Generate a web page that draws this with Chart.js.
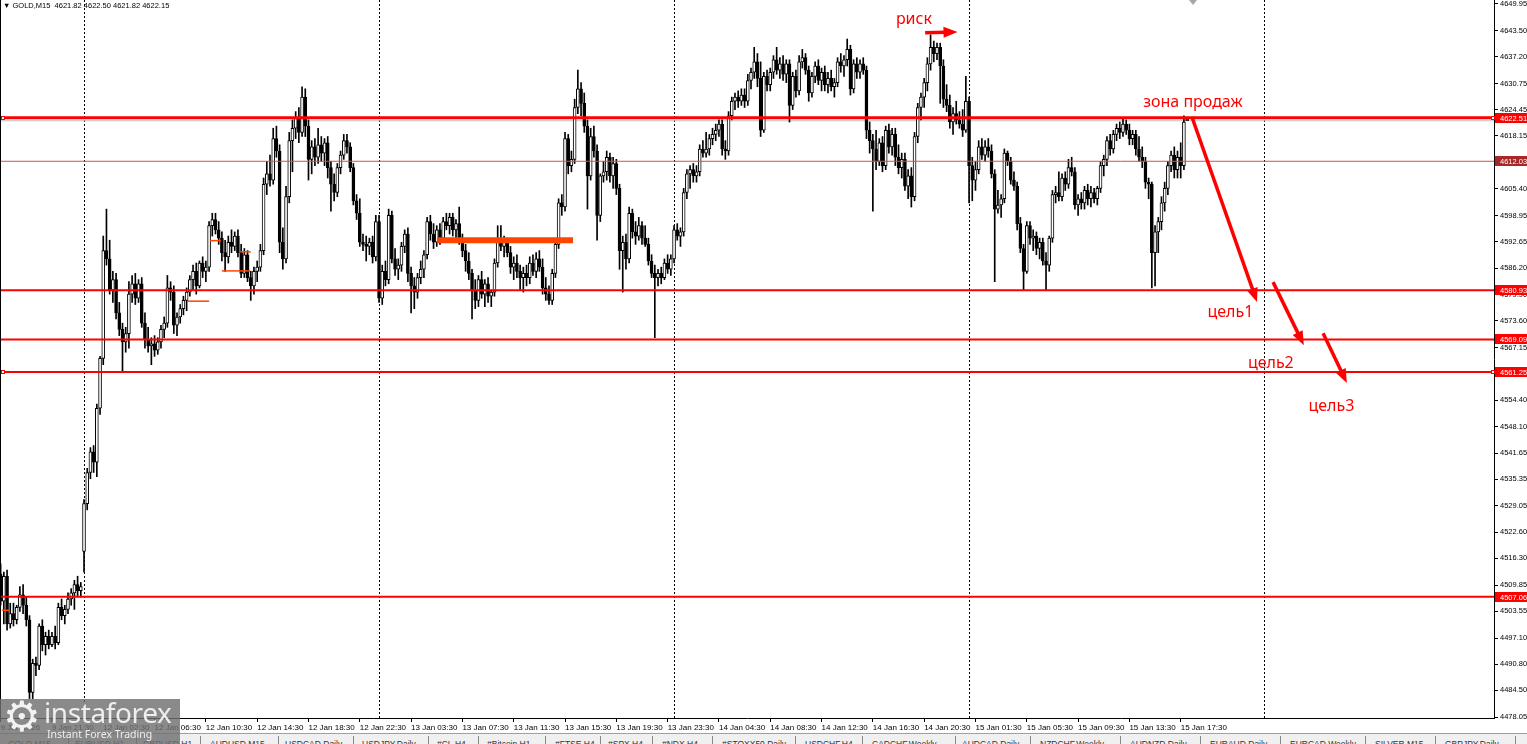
<!DOCTYPE html>
<html>
<head>
<meta charset="utf-8">
<script src="https://cdn.jsdelivr.net/npm/chart.js@4.4.1/dist/chart.umd.min.js"></script>
<style>
html, body { margin: 0; padding: 0; background: #fff; overflow: hidden; }
#wrap { position: relative; width: 1527px; height: 744px; font-family: "Liberation Sans", Arial, sans-serif; }
#c { position: absolute; left: 0; top: 0; }
#hdr { position: absolute; left: 3px; top: 1px; font-size: 7.5px; color: #000; white-space: pre; }
#shift { position: absolute; left: 1189px; top: 0; width: 0; height: 0; border-left: 4px solid transparent; border-right: 4px solid transparent; border-top: 5px solid #a8a8a8; }
#tabs { position: absolute; left: 0; top: 733px; width: 1527px; height: 11px; background: #f0f0f0; border-top: 1px solid #a0a0a0; overflow: hidden; font-size: 8.5px; color: #333; }
#tabs span { position: absolute; top: 5px; white-space: nowrap; }
#tabs i { position: absolute; top: 2px; width: 1px; height: 10px; background: #888; }
#logo { position: absolute; left: 0; top: 699px; width: 180px; height: 45px; background: rgba(112,112,112,0.82); overflow: hidden; color: #eee; font-family: "Noto Sans", sans-serif; }
#logo .gear { position: absolute; left: 3px; top: -7px; font-size: 42px; font-family: "DejaVu Sans", sans-serif; color: #f2f2f2; }
#logo .big { position: absolute; left: 44px; top: -6px; font-size: 28px; letter-spacing: -0.4px; }
#logo .small { position: absolute; left: 47px; top: 28px; font-size: 10.5px; }
</style>
</head>
<body>
<div id="wrap">
  <canvas id="c" width="1527" height="734" style="width:1527px;height:734px"></canvas>
  <div id="hdr"></div>
  <div id="shift"></div>
  <div id="tabs"></div>
  <div id="logo"><span class="gear">⚙</span><span class="big">instaforex</span><span class="small">Instant Forex Trading</span></div>
</div>
<script>
// GOLD M15 candles, 9 Jan 17:30 .. 15 Jan 18:00
const opens = [
4512.5,4506.0,4512.0,4500.5,4503.0,4501.5,4504.5,4507.5,4505.0,4501.5,4484.0,4491.0,4490.5,4500.0,4495.5,4497.5,4495.5,4497.5,4496.0,4504.5,
4502.5,4504.0,4506.5,4508.0,4510.0,4508.5,4518.0,4529.5,4537.0,4542.0,4539.5,4552.5,4564.5,4590.5,4588.5,4581.0,4583.5,4575.5,4571.5,4568.5,
4570.5,4580.0,4582.5,4579.0,4582.5,4573.0,4569.0,4567.5,4568.0,4566.5,4568.5,4571.5,4573.0,4581.5,4580.5,4572.5,4574.5,4576.5,4578.5,4580.5,
4583.5,4585.5,4582.0,4587.5,4585.5,4586.5,4596.5,4598.0,4595.5,4593.5,4590.0,4589.0,4592.5,4591.5,4594.0,4590.0,4585.0,4589.5,4584.0,4582.0,
4585.5,4586.5,4590.5,4606.5,4609.0,4607.5,4617.5,4614.5,4592.5,4588.5,4603.5,4617.0,4620.0,4622.5,4619.0,4627.5,4620.5,4612.5,4615.5,4613.0,
4616.0,4614.0,4616.5,4610.5,4606.5,4604.5,4610.5,4613.5,4617.0,4615.5,4610.5,4602.5,4599.5,4592.5,4592.0,4591.5,4592.5,4589.0,4597.5,4579.0,
4585.5,4583.5,4599.0,4588.5,4586.0,4587.0,4591.5,4594.5,4585.0,4582.0,4580.5,4584.0,4586.0,4589.5,4597.5,4594.5,4592.5,4595.5,4593.5,4597.5,
4596.5,4598.5,4595.5,4597.0,4593.0,4590.5,4588.0,4585.0,4581.0,4578.5,4583.5,4580.0,4582.5,4579.5,4580.5,4587.5,4592.5,4591.5,4592.5,4590.0,
4586.5,4587.5,4585.5,4584.0,4585.0,4584.0,4587.5,4585.5,4588.5,4586.5,4581.5,4580.0,4578.5,4585.0,4592.0,4602.0,4601.0,4617.5,4611.0,4612.5,
4625.0,4629.5,4626.0,4620.5,4608.5,4618.0,4614.5,4599.0,4608.5,4609.5,4613.0,4608.5,4611.5,4605.5,4590.5,4592.5,4588.5,4599.5,4595.0,4594.0,
4596.5,4593.5,4592.0,4588.0,4585.0,4584.0,4585.0,4584.0,4587.5,4586.0,4588.5,4595.5,4594.0,4595.0,4604.5,4609.0,4610.0,4608.5,4609.5,4615.0,
4614.0,4615.0,4617.5,4618.5,4619.5,4621.0,4615.0,4614.5,4623.0,4626.5,4627.5,4626.5,4628.0,4626.5,4631.5,4633.5,4636.0,4632.0,4619.5,4632.5,
4630.5,4633.5,4636.5,4634.0,4635.5,4633.0,4635.5,4625.5,4632.5,4629.0,4636.0,4637.0,4634.0,4628.5,4632.5,4635.0,4631.5,4633.5,4630.5,4632.0,
4630.0,4631.0,4636.0,4635.0,4636.5,4639.0,4629.5,4635.5,4633.5,4635.5,4634.0,4619.5,4617.0,4615.0,4612.0,4616.5,4611.0,4619.5,4615.5,4618.5,
4613.0,4610.5,4612.5,4606.0,4608.5,4603.5,4618.0,4625.0,4627.5,4631.0,4635.5,4639.5,4638.0,4639.5,4635.0,4627.0,4625.5,4621.5,4623.5,4622.0,
4621.0,4619.5,4626.5,4611.0,4607.5,4610.0,4615.5,4613.5,4615.5,4614.5,4609.0,4600.5,4601.5,4603.0,4614.0,4612.0,4607.5,4606.0,4597.0,4591.0,
4585.5,4596.5,4593.5,4594.0,4591.0,4592.5,4588.0,4587.0,4593.5,4604.0,4604.5,4603.5,4608.0,4606.5,4610.5,4609.5,4601.5,4603.0,4602.0,4605.0,
4603.0,4604.5,4603.0,4605.5,4611.0,4612.5,4617.0,4615.0,4618.5,4620.0,4619.0,4621.0,4619.5,4617.5,4618.5,4615.0,4613.0,4612.0,4607.0,4606.5,
4590.0,4595.0,4597.5,4602.0,4605.5,4611.0,4613.5,4610.0,4613.0,4611.0,4621.82
];
const highs = [
4515.0,4513.0,4513.5,4505.5,4505.5,4505.0,4509.5,4510.0,4507.0,4502.5,4492.0,4492.5,4500.5,4501.5,4498.5,4499.0,4498.5,4500.0,4505.5,4506.5,
4505.0,4508.0,4509.0,4511.0,4512.0,4510.5,4530.5,4538.0,4543.0,4543.5,4553.5,4565.0,4594.0,4600.5,4593.0,4585.5,4585.0,4578.0,4573.0,4572.0,
4583.0,4584.5,4585.0,4583.5,4584.0,4575.5,4572.0,4569.5,4570.0,4569.5,4572.5,4574.5,4584.5,4583.0,4582.0,4575.5,4577.5,4579.5,4581.5,4584.5,
4587.0,4587.5,4588.0,4589.0,4588.0,4597.5,4599.5,4599.5,4597.5,4595.0,4593.0,4594.0,4595.5,4595.0,4595.5,4592.0,4591.0,4590.5,4585.5,4586.5,
4588.0,4592.0,4608.0,4612.0,4613.5,4620.0,4620.5,4616.0,4596.0,4606.0,4619.0,4622.0,4624.0,4625.0,4630.0,4629.5,4622.0,4617.0,4617.5,4620.0,
4618.0,4617.5,4618.0,4612.0,4609.0,4611.5,4614.5,4618.5,4618.5,4616.5,4611.5,4604.0,4603.0,4594.5,4594.0,4593.5,4594.0,4599.0,4599.0,4587.0,
4588.0,4600.5,4600.0,4591.0,4588.5,4592.5,4595.5,4596.0,4586.5,4584.0,4585.0,4588.0,4590.5,4598.5,4599.0,4597.0,4596.5,4597.0,4598.5,4599.5,
4599.5,4599.5,4598.0,4601.0,4594.5,4592.0,4590.0,4586.0,4583.5,4584.5,4585.5,4583.5,4584.0,4581.0,4588.5,4596.5,4596.5,4594.0,4593.5,4591.5,
4589.0,4589.5,4587.0,4586.5,4587.0,4589.0,4589.5,4590.0,4590.5,4588.5,4584.0,4582.0,4586.0,4593.0,4603.0,4604.0,4619.0,4618.5,4614.5,4627.0,
4634.0,4631.0,4628.5,4622.0,4620.0,4620.5,4616.0,4609.0,4612.0,4614.5,4614.0,4613.0,4612.5,4606.5,4594.0,4594.5,4601.0,4600.5,4597.5,4598.5,
4597.5,4596.5,4593.5,4589.5,4587.0,4586.0,4586.5,4588.5,4589.5,4589.5,4596.5,4597.0,4596.0,4605.5,4610.0,4611.0,4611.5,4611.0,4616.0,4617.0,
4619.0,4618.5,4620.0,4621.0,4622.0,4622.0,4617.0,4624.0,4627.5,4628.5,4629.0,4629.5,4629.5,4633.0,4634.5,4639.5,4638.0,4636.0,4633.5,4634.0,
4634.5,4637.5,4639.5,4637.0,4637.5,4636.5,4636.5,4633.5,4634.0,4637.5,4639.0,4638.0,4635.0,4633.5,4636.0,4636.5,4634.5,4635.0,4633.5,4634.0,
4632.0,4637.0,4638.0,4637.5,4641.5,4640.0,4636.5,4637.0,4636.5,4637.0,4635.0,4621.5,4618.5,4619.5,4617.5,4618.0,4620.5,4621.0,4620.0,4620.0,
4616.0,4614.0,4614.0,4610.0,4610.5,4619.0,4626.0,4628.5,4632.0,4637.0,4642.5,4641.0,4640.5,4640.5,4636.5,4630.5,4628.0,4625.0,4626.5,4624.0,
4624.5,4632.5,4627.5,4613.0,4612.0,4617.0,4617.5,4617.0,4617.5,4616.0,4610.0,4605.0,4604.0,4615.0,4614.5,4613.0,4609.5,4607.0,4598.5,4592.0,
4597.5,4597.5,4595.5,4595.0,4593.5,4593.5,4590.0,4594.0,4605.0,4606.0,4609.5,4609.0,4609.5,4612.5,4613.0,4610.5,4604.0,4604.5,4606.0,4606.5,
4606.0,4605.5,4606.0,4612.0,4613.5,4618.0,4618.5,4619.5,4621.0,4621.5,4622.5,4622.0,4621.0,4619.5,4619.5,4618.0,4615.5,4613.0,4608.0,4607.0,
4596.5,4598.5,4603.5,4607.0,4612.0,4614.5,4615.5,4614.5,4616.5,4623.0,4622.50
];
const lows = [
4505.0,4500.5,4499.0,4499.5,4500.0,4500.5,4503.5,4503.0,4500.0,4482.5,4482.5,4488.0,4489.5,4494.0,4493.0,4494.5,4495.0,4494.5,4495.5,4501.5,
4500.5,4503.0,4505.0,4504.0,4507.0,4507.0,4513.0,4528.0,4535.5,4537.0,4536.0,4551.0,4563.0,4587.0,4580.0,4578.0,4574.0,4570.0,4561.5,4566.0,
4567.0,4578.0,4577.5,4578.0,4572.0,4567.0,4566.0,4563.0,4565.0,4565.5,4567.0,4569.5,4572.0,4578.5,4570.5,4570.0,4573.0,4575.0,4576.0,4579.5,
4581.0,4580.0,4581.5,4584.0,4583.0,4585.5,4594.0,4594.5,4592.0,4588.0,4585.5,4587.5,4590.0,4590.5,4589.0,4584.0,4584.0,4583.0,4578.5,4580.0,
4583.0,4585.5,4589.5,4604.0,4606.0,4606.5,4613.0,4590.0,4586.0,4587.5,4602.0,4609.5,4617.5,4616.5,4618.0,4618.0,4607.5,4609.0,4611.0,4611.5,
4612.0,4611.0,4608.0,4600.0,4602.5,4603.5,4609.0,4612.5,4614.0,4609.5,4601.5,4598.0,4591.5,4590.5,4588.0,4589.5,4587.5,4588.0,4578.0,4577.5,
4582.0,4582.5,4587.5,4584.5,4583.5,4585.5,4590.0,4583.0,4575.5,4576.5,4579.0,4582.5,4584.0,4588.5,4593.0,4591.0,4591.5,4592.0,4592.5,4595.5,
4594.5,4594.0,4593.0,4592.0,4589.0,4585.5,4583.5,4574.0,4576.5,4577.0,4579.0,4577.0,4578.0,4577.0,4579.5,4586.5,4590.5,4589.0,4589.0,4585.0,
4583.5,4584.0,4581.0,4580.5,4582.0,4582.5,4584.5,4584.0,4585.5,4580.0,4578.5,4577.5,4577.5,4584.0,4591.0,4599.0,4600.0,4609.0,4609.5,4611.5,
4623.5,4623.0,4619.0,4600.5,4607.5,4613.0,4593.0,4597.5,4607.0,4607.5,4607.0,4605.5,4604.0,4586.0,4580.5,4586.0,4587.5,4593.5,4592.0,4593.0,
4592.0,4591.5,4587.0,4584.0,4569.5,4582.0,4582.5,4583.5,4585.0,4584.5,4587.5,4593.0,4591.5,4594.0,4603.0,4605.5,4607.0,4607.0,4608.5,4613.0,
4613.0,4613.5,4616.0,4617.0,4618.0,4613.5,4612.5,4613.5,4622.0,4624.5,4625.0,4625.5,4625.0,4625.5,4629.5,4632.0,4630.0,4618.0,4619.0,4629.0,
4629.0,4632.0,4633.0,4632.0,4631.5,4631.0,4621.5,4624.5,4627.5,4628.0,4634.5,4633.0,4626.5,4627.5,4631.0,4630.5,4629.0,4629.0,4628.5,4629.0,
4627.5,4630.0,4633.5,4632.5,4635.0,4628.0,4628.5,4632.0,4632.0,4633.0,4617.5,4614.0,4600.0,4610.0,4611.0,4609.5,4610.0,4614.0,4613.5,4611.0,
4609.0,4608.0,4605.0,4603.0,4601.0,4602.5,4616.5,4622.0,4625.0,4629.0,4634.0,4636.0,4636.5,4626.0,4625.0,4624.0,4620.0,4618.5,4621.0,4620.0,
4618.0,4619.0,4602.0,4602.5,4605.0,4609.0,4612.5,4612.0,4613.0,4608.0,4583.0,4599.5,4598.5,4602.0,4611.0,4606.5,4605.0,4595.5,4590.0,4581.0,
4585.0,4592.0,4590.5,4589.5,4588.5,4587.0,4581.0,4585.5,4592.5,4602.0,4602.5,4602.5,4605.0,4605.5,4608.5,4600.5,4599.0,4600.5,4600.5,4601.5,
4601.0,4602.0,4601.5,4604.5,4608.5,4611.0,4613.5,4614.0,4617.0,4617.5,4618.0,4618.5,4616.0,4616.0,4613.5,4612.0,4610.5,4605.5,4603.0,4581.5,
4582.0,4590.0,4595.5,4600.0,4604.0,4609.5,4608.0,4608.0,4608.0,4610.0,4621.82
];
const closes = [
4506.0,4512.0,4500.5,4503.0,4501.5,4504.5,4507.5,4505.0,4501.5,4484.0,4491.0,4490.5,4500.0,4495.5,4497.5,4495.5,4497.5,4496.0,4504.5,4502.5,
4504.0,4506.5,4508.0,4510.0,4508.5,4509.5,4529.5,4537.0,4542.0,4539.5,4552.5,4564.5,4590.5,4588.5,4581.0,4583.5,4575.5,4571.5,4568.5,4570.5,
4580.0,4582.5,4579.0,4582.5,4573.0,4569.0,4567.5,4568.0,4566.5,4568.5,4571.5,4573.0,4581.5,4580.5,4572.5,4574.5,4576.5,4578.5,4580.5,4583.5,
4585.5,4582.0,4587.5,4585.5,4586.5,4596.5,4598.0,4595.5,4593.5,4590.0,4589.0,4592.5,4591.5,4594.0,4590.0,4585.0,4589.5,4584.0,4582.0,4585.5,
4586.5,4590.5,4606.5,4609.0,4607.5,4617.5,4614.5,4592.5,4588.5,4603.5,4617.0,4620.0,4622.5,4619.0,4627.5,4620.5,4612.5,4615.5,4613.0,4616.0,
4614.0,4616.5,4610.5,4606.5,4604.5,4610.5,4613.5,4617.0,4615.5,4610.5,4602.5,4599.5,4592.5,4592.0,4591.5,4592.5,4589.0,4597.5,4579.0,4585.5,
4583.5,4599.0,4588.5,4586.0,4587.0,4591.5,4594.5,4585.0,4582.0,4580.5,4584.0,4586.0,4589.5,4597.5,4594.5,4592.5,4595.5,4593.5,4597.5,4596.5,
4598.5,4595.5,4597.0,4593.0,4590.5,4588.0,4585.0,4581.0,4578.5,4583.5,4580.0,4582.5,4579.5,4580.5,4587.5,4592.5,4591.5,4592.5,4590.0,4586.5,
4587.5,4585.5,4584.0,4585.0,4584.0,4587.5,4585.5,4588.5,4586.5,4581.5,4580.0,4578.5,4585.0,4592.0,4602.0,4601.0,4617.5,4611.0,4612.5,4625.0,
4629.5,4626.0,4620.5,4608.5,4618.0,4614.5,4599.0,4608.5,4609.5,4613.0,4608.5,4611.5,4605.5,4590.5,4592.5,4588.5,4599.5,4595.0,4594.0,4596.5,
4593.5,4592.0,4588.0,4585.0,4584.0,4585.0,4584.0,4587.5,4586.0,4588.5,4595.5,4594.0,4595.0,4604.5,4609.0,4610.0,4608.5,4609.5,4615.0,4614.0,
4615.0,4617.5,4618.5,4619.5,4621.0,4615.0,4614.5,4623.0,4626.5,4627.5,4626.5,4628.0,4626.5,4631.5,4633.5,4636.0,4632.0,4619.5,4632.5,4630.5,
4633.5,4636.5,4634.0,4635.5,4633.0,4635.5,4625.5,4632.5,4629.0,4636.0,4637.0,4634.0,4628.5,4632.5,4635.0,4631.5,4633.5,4630.5,4632.0,4630.0,
4631.0,4636.0,4635.0,4636.5,4639.0,4629.5,4635.5,4633.5,4635.5,4634.0,4619.5,4617.0,4615.0,4612.0,4616.5,4611.0,4619.5,4615.5,4618.5,4613.0,
4610.5,4612.5,4606.0,4608.5,4603.5,4618.0,4625.0,4627.5,4631.0,4635.5,4639.5,4638.0,4639.5,4635.0,4627.0,4625.5,4621.5,4623.5,4622.0,4621.0,
4619.5,4626.5,4611.0,4607.5,4610.0,4615.5,4613.5,4615.5,4614.5,4609.0,4600.5,4601.5,4603.0,4614.0,4612.0,4607.5,4606.0,4597.0,4591.0,4585.5,
4596.5,4593.5,4594.0,4591.0,4592.5,4588.0,4587.0,4593.5,4604.0,4604.5,4603.5,4608.0,4606.5,4610.5,4609.5,4601.5,4603.0,4602.0,4605.0,4603.0,
4604.5,4603.0,4605.5,4611.0,4612.5,4617.0,4615.0,4618.5,4620.0,4619.0,4621.0,4619.5,4617.5,4618.5,4615.0,4613.0,4612.0,4607.0,4606.5,4590.0,
4595.0,4597.5,4602.0,4605.5,4611.0,4613.5,4610.0,4613.0,4611.0,4621.5,4622.15
];

// x-axis labels, one every 16 bars
const timeLabels = ['9 Jan 2026','9 Jan 21:30','12 Jan 02:30','12 Jan 06:30','12 Jan 10:30','12 Jan 14:30',
  '12 Jan 18:30','12 Jan 22:30','13 Jan 03:30','13 Jan 07:30','13 Jan 11:30','13 Jan 15:30','13 Jan 19:30',
  '13 Jan 23:30','14 Jan 04:30','14 Jan 08:30','14 Jan 12:30','14 Jan 16:30','14 Jan 20:30','15 Jan 01:30',
  '15 Jan 05:30','15 Jan 09:30','15 Jan 13:30','15 Jan 17:30'];
const labelStep = 16;

// price axis ticks
const priceTicks = [4649.95,4643.50,4637.20,4630.75,4624.45,4618.15,4611.70,4605.40,4598.95,4592.65,4586.20,
  4579.90,4573.60,4567.15,4560.85,4554.40,4548.10,4541.65,4535.35,4529.05,4522.60,4516.30,4509.85,4503.55,
  4497.10,4490.80,4484.50,4478.05];

// day separators (bar index of first bar of each day)
const dayBreaks = [26, 118, 210, 302, 394];

// horizontal levels
const levels = [4622.51, 4612.03, 4580.93, 4569.09, 4561.25, 4507.06];
const bidPrice = 4622.15;

// orange segments: from bar, to bar, price
const orangeFrom = [136.1, 65.3, 69.0, 74.7, 58.4, 0.4];
const orangeTo = [178.5, 68.7, 77.8, 78.0, 65.0, 2.9];
const orangePrice = [4593.0, 4592.9, 4585.6, 4590.2, 4578.3, 4503.8];

// red arrows: [bar from, price from, bar to, price to]
const arrows = [
  [288.3, 4643.0, 298.4, 4643.2],
  [371.5, 4622.7, 391.8, 4578.1],
  [396.8, 4582.9, 406.4, 4567.7],
  [412.4, 4570.6, 419.8, 4558.6]
];
const notes = ['риск', 'зона продаж', 'цель1', 'цель2', 'цель3'];
const noteBar = [284.8, 371.8, 383.5, 396.1, 415.0];
const notePrice = [4646.3, 4626.3, 4575.6, 4563.2, 4553.0];

const tabList = [[8,'GOLD,M15'],[75,'EURUSD,H1'],[143,'GBPUSD,H1'],[210,'AUDUSD,M15'],[285,'USDCAD,Daily'],
  [362,'USDJPY,Daily'],[437,'#CL,H4'],[487,'#Bitcoin,H1'],[555,'#FTSE,H4'],[608,'#SPX,H4'],[662,'#NDX,H4'],
  [722,'#STOXX50,Daily'],[805,'USDCHF,H4'],[872,'CADCHF,Weekly'],[962,'AUDCAD,Daily'],[1040,'NZDCHF,Weekly'],
  [1130,'AUDNZD,Daily'],[1210,'EURAUD,Daily'],[1290,'EURCAD,Weekly'],[1375,'SILVER,M15'],[1445,'GBPJPY,Daily']];
const tabSeps = [68, 136, 200, 278, 353, 428, 478, 545, 600, 652, 712, 795, 862, 955, 1030, 1120, 1200, 1280, 1365, 1435, 1515];

const last = closes.length - 1;
document.getElementById('hdr').textContent = '\u25BC GOLD,M15  ' + opens[last].toFixed(2) + ' ' +
  highs[last].toFixed(2) + ' ' + lows[last].toFixed(2) + ' ' + closes[last].toFixed(2);

let tabsHtml = '';
tabList.forEach(t => { tabsHtml += '<span style="left:' + t[0] + 'px">' + t[1] + '</span>'; });
tabSeps.forEach(s => { tabsHtml += '<i style="left:' + s + 'px"></i>'; });
document.getElementById('tabs').innerHTML = tabsHtml;

const AX_FONT = { family: '"Liberation Sans", Arial, sans-serif', size: 8 };

const overlay = {
  id: 'overlay',
  beforeDatasetsDraw(chart) {
    const { ctx, chartArea: a, scales: { x } } = chart;
    ctx.save();
    ctx.strokeStyle = '#000';
    ctx.lineWidth = 1;
    ctx.setLineDash([2, 2]);
    dayBreaks.forEach(d => {
      const px = Math.round(x.getPixelForValue(d)) + 0.5;
      ctx.beginPath(); ctx.moveTo(px, a.top); ctx.lineTo(px, a.bottom); ctx.stroke();
    });
    ctx.setLineDash([]);
    // bid line
    const by = chart.scales.y.getPixelForValue(bidPrice);
    ctx.strokeStyle = '#c0c0c0';
    ctx.beginPath(); ctx.moveTo(a.left, by + 1.5); ctx.lineTo(a.right, by + 1.5); ctx.stroke();
    ctx.restore();
  },
  afterDatasetsDraw(chart) {
    const { ctx, chartArea: a, scales: { x, y } } = chart;
    ctx.save();
    ctx.beginPath(); ctx.rect(a.left, a.top, a.right - a.left, a.bottom - a.top); ctx.clip();

    // orange marks
    ctx.strokeStyle = '#ff4500';
    orangePrice.forEach((p, i) => {
      ctx.lineWidth = i === 0 ? 6 : 1.5;
      const py = y.getPixelForValue(p);
      ctx.beginPath(); ctx.moveTo(x.getPixelForValue(orangeFrom[i]), py);
      ctx.lineTo(x.getPixelForValue(orangeTo[i]), py); ctx.stroke();
    });

    // levels
    const lw = [3, 1, 2, 2, 2, 2];
    const lc = ['#ff0000', '#d05050', '#ff0000', '#ff0000', '#ff0000', '#ff0000'];
    levels.forEach((p, i) => {
      const py = y.getPixelForValue(p);
      ctx.strokeStyle = lc[i]; ctx.lineWidth = lw[i];
      ctx.beginPath(); ctx.moveTo(a.left, py); ctx.lineTo(a.right, py); ctx.stroke();
    });

    // left border
    ctx.strokeStyle = '#000'; ctx.lineWidth = 1;
    ctx.beginPath(); ctx.moveTo(a.left + 0.5, a.top); ctx.lineTo(a.left + 0.5, a.bottom); ctx.stroke();

    // selection squares on the left end
    [levels[0], levels[4]].forEach(p => {
      const py = Math.round(y.getPixelForValue(p));
      ctx.fillStyle = '#fff'; ctx.fillRect(a.left + 1, py - 2, 4, 4);
      ctx.strokeStyle = '#ff0000'; ctx.strokeRect(a.left + 1.5, py - 1.5, 3, 3);
    });

    // arrows
    ctx.strokeStyle = '#ff0000'; ctx.fillStyle = '#ff0000';
    arrows.forEach(ar => {
      const x1 = x.getPixelForValue(ar[0]), y1 = y.getPixelForValue(ar[1]);
      const x2 = x.getPixelForValue(ar[2]), y2 = y.getPixelForValue(ar[3]);
      const ang = Math.atan2(y2 - y1, x2 - x1);
      const hl = 14, hw = 5.5;
      const bx = x2 - Math.cos(ang) * hl, byy = y2 - Math.sin(ang) * hl;
      ctx.lineWidth = 3.5; ctx.lineCap = 'butt';
      ctx.beginPath(); ctx.moveTo(x1, y1); ctx.lineTo(bx + Math.cos(ang) * 2, byy + Math.sin(ang) * 2); ctx.stroke();
      ctx.beginPath();
      ctx.moveTo(x2, y2);
      ctx.lineTo(bx - Math.sin(ang) * hw, byy + Math.cos(ang) * hw);
      ctx.lineTo(bx + Math.sin(ang) * hw, byy - Math.cos(ang) * hw);
      ctx.closePath(); ctx.fill();
    });

    // notes
    ctx.font = '16px "Noto Sans", sans-serif';
    ctx.textAlign = 'center'; ctx.textBaseline = 'middle';
    notes.forEach((t, i) => {
      ctx.fillText(t, x.getPixelForValue(noteBar[i]), y.getPixelForValue(notePrice[i]));
    });
    ctx.restore();
  },
  afterDraw(chart) {
    const { ctx, chartArea: a, scales: { y } } = chart;
    ctx.save();
    const bg = ['#ff0000', '#a82828', '#ff0000', '#ff0000', '#ff0000', '#ff0000'];
    ctx.font = '7.5px "Liberation Sans", Arial, sans-serif';
    ctx.textAlign = 'left'; ctx.textBaseline = 'middle';
    levels.forEach((p, i) => {
      const py = Math.round(y.getPixelForValue(p));
      ctx.fillStyle = bg[i];
      ctx.fillRect(a.right + 1, py - 5, 33, 10);
      ctx.fillStyle = '#fff';
      ctx.fillText(p.toFixed(2), a.right + 6, py + 0.5);
    });
    [levels[0], levels[4]].forEach(p => {
      const py = Math.round(y.getPixelForValue(p));
      ctx.fillStyle = '#fff'; ctx.fillRect(a.right - 3, py - 2, 4, 4);
      ctx.strokeStyle = '#ff0000'; ctx.lineWidth = 1; ctx.strokeRect(a.right - 2.5, py - 1.5, 3, 3);
    });
    ctx.restore();
  }
};

const bars = closes.map((c, i) => i);

new Chart(document.getElementById('c').getContext('2d'), {
  type: 'bar',
  data: {
    datasets: [
      {
        label: 'body',
        data: bars.map(i => ({ x: i, y: [Math.min(opens[i], closes[i]), Math.max(opens[i], closes[i])] })),
        backgroundColor: ctx => (closes[ctx.dataIndex] >= opens[ctx.dataIndex] ? '#ffffff' : '#000000'),
        borderColor: '#000',
        borderWidth: 1,
        borderSkipped: false,
        barThickness: 3,
        grouped: false,
        order: 1
      },
      {
        label: 'wick',
        data: bars.map(i => ({ x: i, y: [lows[i], highs[i]] })),
        backgroundColor: '#000',
        barThickness: 1,
        grouped: false,
        order: 2
      }
    ]
  },
  options: {
    responsive: false,
    animation: false,
    events: [],
    layout: { padding: 0 },
    plugins: { legend: { display: false }, tooltip: { enabled: false } },
    scales: {
      x: {
        type: 'linear',
        min: -0.2,
        max: 465.7,
        offset: false,
        grid: { display: true, drawOnChartArea: false, drawTicks: true, tickLength: 4, color: '#000', offset: false },
        border: { display: true, color: '#000' },
        ticks: {
          align: 'start', padding: 1, maxRotation: 0, autoSkip: false, color: '#000', font: AX_FONT,
          callback: v => timeLabels[Math.round(v / labelStep)] || ''
        },
        afterBuildTicks: s => { s.ticks = timeLabels.map((t, k) => ({ value: k * labelStep })); },
        afterFit: s => { s.height = 16; s.paddingLeft = 0; s.paddingRight = 0; }
      },
      y: {
        position: 'right',
        min: 4477.82,
        max: 4650.91,
        beginAtZero: false,
        grid: { display: true, drawOnChartArea: false, drawTicks: true, tickLength: 4, color: '#000' },
        border: { display: true, color: '#000' },
        ticks: { padding: 2, color: '#000', font: { family: AX_FONT.family, size: 7.5 }, autoSkip: false,
          callback: v => Number(v).toFixed(2) },
        afterBuildTicks: s => { s.ticks = priceTicks.map(v => ({ value: v })); },
        afterFit: s => { s.width = 33; s.paddingTop = 0; s.paddingBottom = 0; }
      }
    }
  },
  plugins: [overlay]
});
</script>
</body>
</html>
